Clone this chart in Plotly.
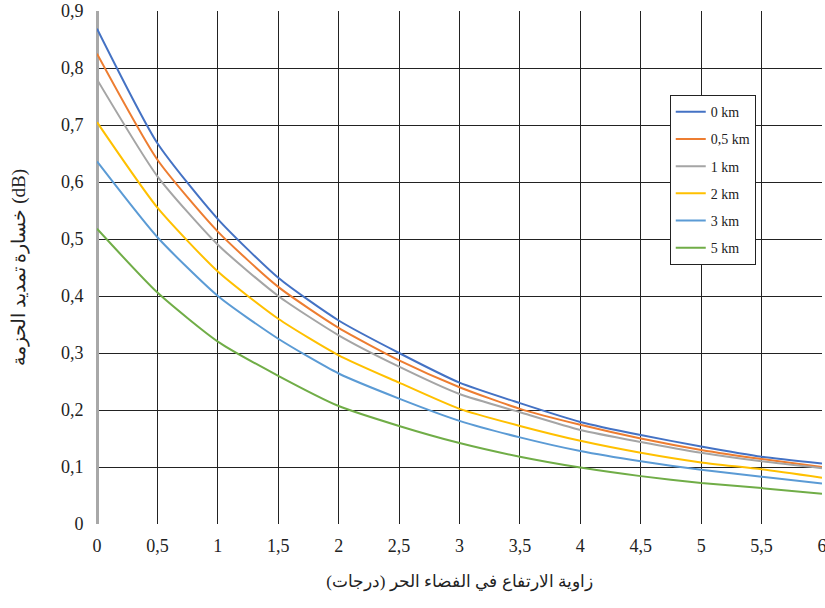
import plotly.graph_objects as go

x_deg = [0, 0.5, 1, 1.5, 2, 2.5, 3, 3.5, 4, 4.5, 5, 5.5, 6]
loss_0km = [0.869, 0.668, 0.535, 0.432, 0.357, 0.300, 0.248, 0.212, 0.179, 0.156, 0.136, 0.118, 0.106]
loss_05km = [0.825, 0.639, 0.513, 0.416, 0.344, 0.287, 0.240, 0.202, 0.174, 0.150, 0.130, 0.114, 0.100]
loss_1km = [0.780, 0.610, 0.490, 0.400, 0.331, 0.276, 0.228, 0.196, 0.165, 0.144, 0.125, 0.110, 0.098]
loss_2km = [0.705, 0.555, 0.443, 0.360, 0.296, 0.248, 0.202, 0.172, 0.146, 0.125, 0.108, 0.096, 0.081]
loss_3km = [0.636, 0.503, 0.400, 0.325, 0.264, 0.220, 0.181, 0.152, 0.128, 0.110, 0.095, 0.083, 0.071]
loss_5km = [0.518, 0.406, 0.320, 0.260, 0.207, 0.172, 0.142, 0.118, 0.099, 0.084, 0.072, 0.063, 0.053]

series_names = ["0 km", "0,5 km", "1 km", "2 km", "3 km", "5 km"]
series_values = [loss_0km, loss_05km, loss_1km, loss_2km, loss_3km, loss_5km]
colors = ["#4472C4", "#ED7D31", "#A5A5A5", "#FFC000", "#5B9BD5", "#70AD47"]

x_ticks = [0, 0.5, 1, 1.5, 2, 2.5, 3, 3.5, 4, 4.5, 5, 5.5, 6]
x_ticklabels = ["0", "0,5", "1", "1,5", "2", "2,5", "3", "3,5", "4", "4,5", "5", "5,5", "6"]
y_ticks = [0, 0.1, 0.2, 0.3, 0.4, 0.5, 0.6, 0.7, 0.8, 0.9]
y_ticklabels = ["0", "0,1", "0,2", "0,3", "0,4", "0,5", "0,6", "0,7", "0,8", "0,9"]

x_title = "زاوية الارتفاع في الفضاء الحر (درجات)"
y_title = "خسارة تمديد الحزمة (dB)"

FONT = "Liberation Serif, DejaVu Serif, serif"

fig = go.Figure()
for name, vals, col in zip(series_names, series_values, colors):
    fig.add_trace(go.Scatter(
        x=x_deg, y=vals, name=name, mode="lines",
        line=dict(color=col, width=2, shape="spline", smoothing=0.6),
        legendgroup=name,
    ))

fig.update_layout(
    width=825, height=608,
    margin=dict(l=97, r=3, t=11, b=84),
    paper_bgcolor="white", plot_bgcolor="white",
    separators=", ",
    font=dict(family=FONT, size=16, color="#222"),
    showlegend=True,
    legend=dict(
        x=0.79, y=0.836, xanchor="left", yanchor="top",
        bgcolor="white", bordercolor="#222", borderwidth=1,
        font=dict(family=FONT, size=14, color="#222"),
        tracegroupgap=6, itemwidth=30,
    ),
    xaxis=dict(
        range=[0, 6.0001], tickmode="array", tickvals=x_ticks, ticktext=x_ticklabels,
        showgrid=True, gridcolor="#222", gridwidth=1.3,
        zeroline=True, zerolinecolor="#A8A8A8", zerolinewidth=2.5,
        showline=False, ticks="outside", ticklen=5, tickcolor="rgba(0,0,0,0)",
        tickfont=dict(family=FONT, size=18), automargin=False,
        ticklabeloverflow="allow",
        title=dict(text=x_title, font=dict(family=FONT, size=17), standoff=20),
    ),
    yaxis=dict(
        range=[0, 0.9], tickmode="array", tickvals=y_ticks, ticktext=y_ticklabels,
        showgrid=True, gridcolor="#222", gridwidth=1.3,
        zeroline=True, zerolinecolor="rgba(255,255,255,0)",
        showline=False, ticks="outside", ticklen=9, tickcolor="rgba(0,0,0,0)",
        tickfont=dict(family=FONT, size=18), automargin=False,
        ticklabeloverflow="allow",
        title=dict(text=y_title, font=dict(family=FONT, size=19), standoff=30),
    ),
)

fig.write_html(
    "out.html",
    config={"displayModeBar": False},
    post_script="document.body.style.margin='0';document.body.style.overflow='hidden';",
)
